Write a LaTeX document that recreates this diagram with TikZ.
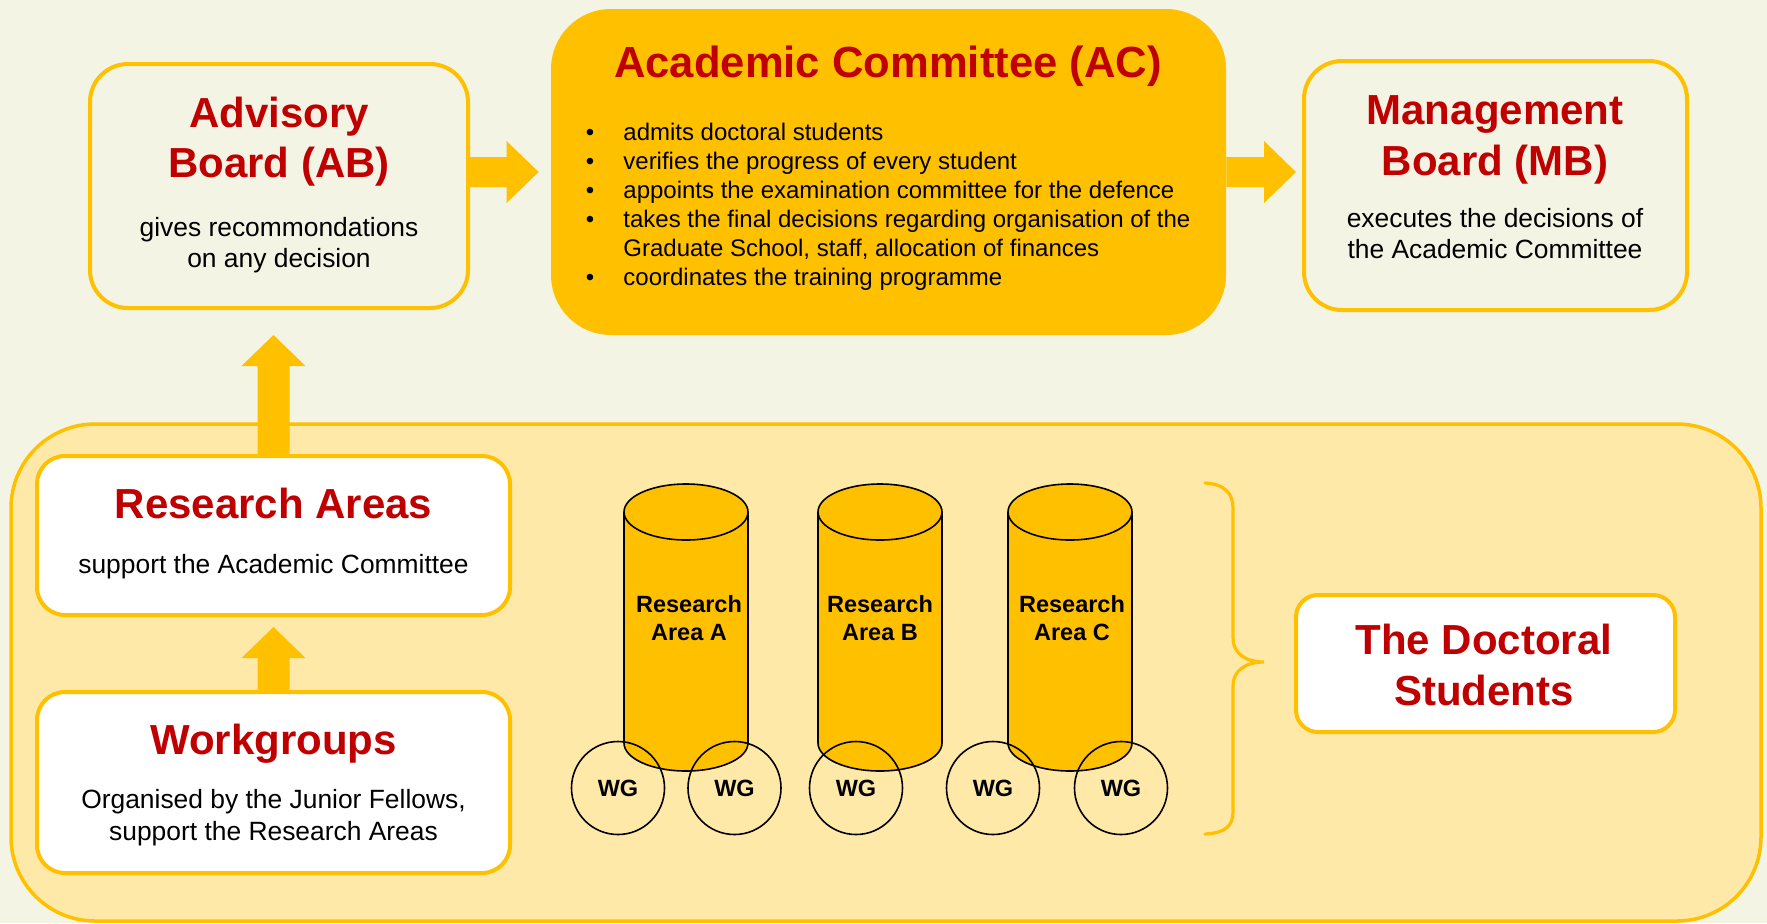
\documentclass[tikz,border=0pt]{standalone}
\usepackage{fontspec}
\setmainfont{Liberation Sans}
\usetikzlibrary{calc}
\definecolor{bgc}{RGB}{244,244,229}
\definecolor{yc}{RGB}{255,192,0}
\definecolor{lyc}{RGB}{255,233,168}
\definecolor{rc}{RGB}{192,0,0}
\newcommand{\blockH}[2]{\fill[yc] ($(#1)+(0,-15)$) -- ($(#2)+(-32,-15)$) -- ($(#2)+(-32,-31)$) -- (#2) -- ($(#2)+(-32,31)$) -- ($(#2)+(-32,15)$) -- ($(#1)+(0,15)$) -- cycle;}
\newcommand{\blockV}[2]{\fill[yc] ($(#1)+(-16,0)$) -- ($(#2)+(-16,31)$) -- ($(#2)+(-32,31)$) -- (#2) -- ($(#2)+(32,31)$) -- ($(#2)+(16,31)$) -- ($(#1)+(16,0)$) -- cycle;}
\newcommand{\rcyl}[1]{%
  \fill[yc] (#1-62,512) -- (#1-62,743) arc[start angle=180,end angle=360,x radius=31pt,y radius=14pt] -- (#1+62,512) -- cycle;
  \draw[cylline] (#1-62,512) -- (#1-62,743) arc[start angle=180,end angle=360,x radius=31pt,y radius=14pt] -- (#1+62,512);
  \filldraw[cylline,fill=yc] (#1,512) ellipse[x radius=31pt,y radius=14pt];}
\tikzset{
  card/.style={draw=yc, line width=2pt, inner sep=0pt, outer sep=0pt},
  ttl/.style={text=rc, font=\fontsize{21}{25}\selectfont\bfseries, anchor=base, inner sep=0pt},
  txt/.style={font=\fontsize{13.2}{15.5}\selectfont, anchor=base, inner sep=0pt},
  bul/.style={font=\fontsize{12}{14.5}\selectfont, anchor=base west, inner sep=0pt},
  dot/.style={font=\fontsize{12}{14.5}\selectfont, anchor=base, inner sep=0pt},
  cyltxt/.style={font=\fontsize{11.75}{14.5}\selectfont\bfseries, anchor=base, inner sep=0pt},
  wgc/.style={circle, draw=black, line width=0.8pt, minimum size=46.5pt, inner sep=0pt, font=\fontsize{11.75}{14.5}\selectfont\bfseries},
  cylline/.style={draw=black, line width=0.8pt},
  brace/.style={draw=yc, line width=1.6pt, line cap=round}
}
\begin{document}
\begin{tikzpicture}[x=0.5pt,y=-0.5pt]
\useasboundingbox (0,0) rectangle (1767,923);
\fill[bgc] (0,0) rectangle (1767,923);
% container
\node[draw=yc, line width=1.75pt, fill=lyc, rounded corners=42pt, minimum width=875pt, minimum height=248.5pt, inner sep=0pt] (grad) at (886,672.5) {};
% top boxes
\node[card, fill=bgc, rounded corners=19pt, minimum width=189pt, minimum height=122pt] (ab) at (279,186) {};
\node[fill=yc, rounded corners=30pt, minimum width=337.5pt, minimum height=163pt, inner sep=0pt] (ac) at (888.5,172) {};
\node[card, fill=bgc, rounded corners=19pt, minimum width=191.5pt, minimum height=124.5pt] (mb) at (1495.5,185.5) {};
% lower boxes
\node[card, fill=white, rounded corners=14pt, minimum width=236.5pt, minimum height=79.5pt] (ra) at (273.5,535.5) {};
\node[card, fill=white, rounded corners=14pt, minimum width=236.5pt, minimum height=90.5pt] (wg) at (273.5,782.5) {};
\node[card, fill=white, rounded corners=11pt, minimum width=189.5pt, minimum height=68.5pt] (ds) at (1485.5,663.5) {};
% block arrows
\blockH{ab.east |- ac.west}{$(ac.west)+(-12,0)$}
\blockH{ac.east}{$(mb.west |- ac.east)+(-8,0)$}
\blockV{ra.north}{$(ra.north |- ab.south)+(0,27)$}
\blockV{wg.north}{$(ra.south)+(0,12)$}
% cylinders
\rcyl{686}
\rcyl{880}
\rcyl{1070}
\node[cyltxt] (caA1) at (689,612) {Research};
\node[cyltxt] (caA2) at (689,640) {Area A};
\node[cyltxt] (caB1) at (880,612) {Research};
\node[cyltxt] (caB2) at (880,640) {Area B};
\node[cyltxt] (caC1) at (1072,612) {Research};
\node[cyltxt] (caC2) at (1072,640) {Area C};
% workgroup circles
\node[wgc] (w1) at (618,788) {WG};
\node[wgc] (w2) at (734.5,788) {WG};
\node[wgc] (w3) at (856,788) {WG};
\node[wgc] (w4) at (993,788) {WG};
\node[wgc] (w5) at (1121,788) {WG};
% brace
\draw[brace] (1205,483) .. controls (1225,484) and (1233,494) .. (1233,508) -- (1233,638) .. controls (1233,653) and (1245,662) .. (1264,662) .. controls (1245,662) and (1233,671) .. (1233,686) -- (1233,812) .. controls (1233,826) and (1225,833) .. (1205,834);
% texts: AB
\node[ttl] (abt1) at (279,127) {Advisory};
\node[ttl] (abt2) at (279,177) {Board (AB)};
\node[txt] (abb1) at (279,236) {gives recommondations};
\node[txt] (abb2) at (279,267) {on any decision};
% AC
\node[ttl, font=\fontsize{21.8}{25}\selectfont\bfseries] (act) at (888,77) {Academic Committee (AC)};
\node[dot] (acd1) at (590,140) {•};
\node[bul] (acb1) at (623,140) {admits doctoral students};
\node[dot] (acd2) at (590,169) {•};
\node[bul] (acb2) at (623,169) {verifies the progress of every student};
\node[dot] (acd3) at (590,198) {•};
\node[bul] (acb3) at (623,198) {appoints the examination committee for the defence};
\node[dot] (acd4) at (590,227) {•};
\node[bul] (acb4) at (623,227) {takes the final decisions regarding organisation of the};
\node[bul] (acb5) at (623,256) {Graduate School, staff, allocation of finances};
\node[dot] (acd6) at (590,285) {•};
\node[bul] (acb6) at (623,285) {coordinates the training programme};
% MB
\node[ttl] (mbt1) at (1495,124) {Management};
\node[ttl] (mbt2) at (1495,175) {Board (MB)};
\node[txt] (mbb1) at (1495,227) {executes the decisions of};
\node[txt] (mbb2) at (1495,258) {the Academic Committee};
% RA
\node[ttl] (rat) at (273.5,518) {Research Areas};
\node[txt] (rab) at (273.5,573) {support the Academic Committee};
% WG
\node[ttl] (wgt) at (273.5,754) {Workgroups};
\node[txt] (wgb1) at (273.5,808) {Organised by the Junior Fellows,};
\node[txt] (wgb2) at (273.5,840) {support the Research Areas};
% DS
\node[ttl] (dst1) at (1484,654) {The Doctoral};
\node[ttl] (dst2) at (1484,705) {Students};
\end{tikzpicture}
\end{document}
